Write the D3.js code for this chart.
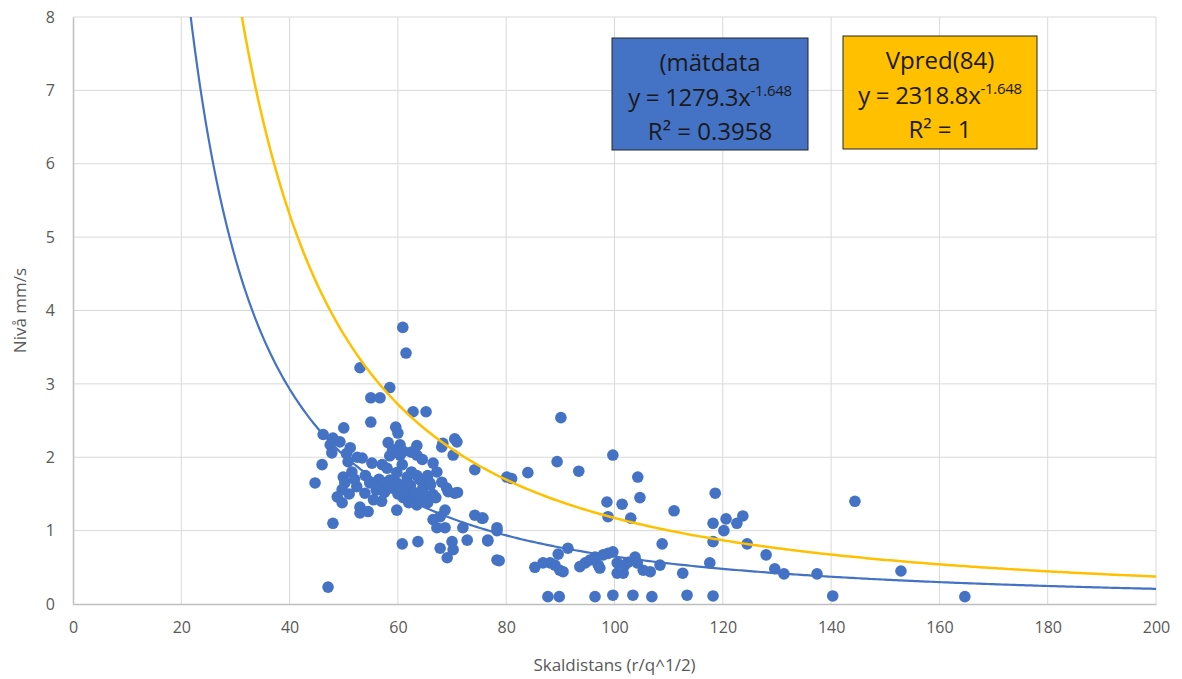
<!DOCTYPE html>
<html>
<head>
<meta charset="utf-8">
<script src="https://cdn.jsdelivr.net/npm/d3@7"></script>
<style>
  body { margin: 0; background: #fff; }
  svg text { font-family: "Liberation Sans Narrow", "Open Sans", sans-serif; }
</style>
</head>
<body>
<div id="chart"></div>
<script>
var svgWidth = 1182;
var svgHeight = 679;

var margin = { top: 17, right: 26, bottom: 75, left: 73 };
var width = svgWidth - margin.left - margin.right;
var height = svgHeight - margin.top - margin.bottom;

// measured values (skaldistans, nivå)
var measX = [60.9, 61.5, 53.0, 58.5, 55.0, 56.7, 62.8, 65.2, 55.0, 50.0, 59.6, 60.0, 70.5, 46.2, 48.0,
  58.2, 60.4, 63.5, 68.1, 51.2, 49.3, 47.5, 47.8, 46.0, 44.7, 50.8, 53.4, 55.2, 57.1, 60.4,
  63.5, 49.9, 50.2, 51.5, 49.7, 48.8, 49.7, 52.4, 53.0, 53.0, 54.5, 53.9, 54.8, 56.1, 57.2,
  58.5, 59.8, 59.8, 59.8, 60.8, 61.7, 61.7, 62.8, 63.5, 64.1, 64.6, 65.9, 66.5, 67.2, 66.5,
  68.1, 69.3, 70.5, 68.7, 67.8, 66.5, 67.2, 68.7, 72.0, 74.2, 75.5, 78.3, 72.8, 70.0, 67.8,
  70.2, 69.1, 76.6, 78.3, 60.8, 63.7, 70.9, 74.2, 68.3, 70.2, 48.0, 47.1,
  56.0, 57.5, 58.8, 60.5, 62.3, 63.0, 61.0, 62.0, 64.0, 65.0, 65.5, 66.0, 64.5, 62.5, 63.5,
  61.0, 59.0, 62.5, 65.5, 58.0, 56.5, 52.0, 51.0, 55.5, 57.0, 60.0, 52.5, 54.0, 50.5, 64.5,
  67.0, 71.0, 69.0, 58.5,
  90.1, 99.7, 89.4, 84.0, 93.4, 80.1, 81.0, 104.3, 104.7, 98.6, 101.4, 111.0, 98.8, 103.0, 75.7,
  78.3, 76.6, 108.8, 78.7, 91.4, 89.6, 87.7, 89.8, 96.4, 99.7, 103.4, 106.9, 113.4, 85.3, 86.8,
  88.1, 89.0, 89.9, 90.5, 93.6, 94.6, 95.5, 96.4, 97.0, 97.9, 98.8, 99.7, 97.3, 100.5, 100.5,
  101.6, 101.9, 102.5, 103.8, 104.2, 105.3, 106.6, 108.4, 112.6, 118.6, 144.4, 118.2, 120.6, 122.6, 123.7,
  120.2, 118.2, 124.5, 128.0, 117.6, 129.6, 131.3, 137.4, 152.9, 118.2, 140.3, 164.7];
var measY = [3.77, 3.42, 3.22, 2.95, 2.81, 2.81, 2.62, 2.62, 2.48, 2.40, 2.41, 2.33, 2.25, 2.31, 2.26,
  2.20, 2.17, 2.16, 2.14, 2.13, 2.21, 2.17, 2.06, 1.90, 1.65, 1.94, 1.99, 1.92, 1.90, 2.03,
  2.03, 1.73, 1.65, 1.80, 1.56, 1.46, 1.38, 1.60, 1.32, 1.24, 1.26, 1.51, 1.65, 1.60, 1.66,
  1.69, 1.79, 1.65, 1.28, 1.90, 1.73, 1.56, 1.46, 1.35, 1.69, 1.58, 1.65, 1.92, 1.80, 1.49,
  1.66, 1.53, 1.51, 1.28, 1.19, 1.15, 1.04, 1.04, 1.04, 1.21, 1.17, 1.04, 0.87, 0.85, 0.76,
  0.74, 0.63, 0.87, 0.60, 0.82, 0.85, 2.21, 1.83, 2.19, 2.03, 1.10, 0.23,
  1.55, 1.52, 1.58, 1.62, 1.62, 1.52, 1.45, 1.38, 1.42, 1.48, 1.38, 1.62, 1.52, 1.80, 1.75,
  2.08, 2.10, 2.07, 1.75, 1.85, 1.70, 1.70, 1.50, 1.42, 1.40, 1.50, 2.00, 1.75, 2.05, 1.97,
  1.45, 1.52, 1.58, 2.02,
  2.54, 2.03, 1.94, 1.79, 1.81, 1.73, 1.71, 1.73, 1.45, 1.39, 1.36, 1.27, 1.19, 1.17, 1.17,
  1.00, 0.86, 0.82, 0.59, 0.76, 0.68, 0.10, 0.10, 0.10, 0.12, 0.12, 0.10, 0.12, 0.50, 0.56,
  0.56, 0.53, 0.46, 0.44, 0.51, 0.56, 0.60, 0.64, 0.53, 0.67, 0.69, 0.71, 0.49, 0.56, 0.42,
  0.42, 0.53, 0.57, 0.64, 0.56, 0.46, 0.44, 0.53, 0.42, 1.51, 1.40, 1.10, 1.16, 1.10, 1.20,
  1.00, 0.85, 0.82, 0.67, 0.56, 0.48, 0.41, 0.41, 0.45, 0.11, 0.11, 0.10];

// power trendlines y = a * x^b
var fitMeas = { a: 1279.3, b: -1.648 };
var fitPred = { a: 2318.8, b: -1.648 };

var xTicks = [0, 20, 40, 60, 80, 100, 120, 140, 160, 180, 200];
var yTicks = [0, 1, 2, 3, 4, 5, 6, 7, 8];

var points = measX.map((x, i) => ({ x: x, y: measY[i] }));

var svg = d3.select("#chart")
  .append("svg")
  .attr("width", svgWidth)
  .attr("height", svgHeight);

var chartGroup = svg.append("g")
  .attr("transform", `translate(${margin.left}, ${margin.top})`);

var xScale = d3.scaleLinear().domain([0, 200]).range([0, width]);
var yScale = d3.scaleLinear().domain([0, 8]).range([height, 0]);

// gridlines
chartGroup.append("g")
  .selectAll("line")
  .data(xTicks.slice(1))
  .enter()
  .append("line")
  .attr("x1", d => xScale(d)).attr("x2", d => xScale(d))
  .attr("y1", 0).attr("y2", height)
  .attr("stroke", "#d9d9d9").attr("stroke-width", 1);

chartGroup.append("g")
  .selectAll("line")
  .data(yTicks.slice(1))
  .enter()
  .append("line")
  .attr("x1", 0).attr("x2", width)
  .attr("y1", d => yScale(d)).attr("y2", d => yScale(d))
  .attr("stroke", "#d9d9d9").attr("stroke-width", 1);

// axes
var bottomAxis = d3.axisBottom(xScale).tickValues(xTicks).tickSize(0).tickPadding(18);
var leftAxis = d3.axisLeft(yScale).tickValues(yTicks).tickSize(0).tickPadding(18);

var xAxis = chartGroup.append("g")
  .attr("transform", `translate(0, ${height})`)
  .call(bottomAxis);
var yAxis = chartGroup.append("g").call(leftAxis);

[xAxis, yAxis].forEach(function(ax) {
  ax.select(".domain").attr("stroke", "#bfbfbf").attr("stroke-width", 1.5);
  ax.selectAll("text").attr("fill", "#595959").attr("font-size", "16px");
});

// clip for trendlines
svg.append("clipPath").attr("id", "plotClip")
  .append("rect").attr("x", 0).attr("y", 0).attr("width", width).attr("height", height);

var trendX = d3.range(15, 200.5, 0.5);
var line = d3.line().x(d => xScale(d[0])).y(d => yScale(d[1]));

function trend(fit) {
  return trendX.map(x => [x, fit.a * Math.pow(x, fit.b)]);
}

// scatter
chartGroup.append("g")
  .selectAll("circle")
  .data(points)
  .enter()
  .append("circle")
  .attr("cx", d => xScale(d.x))
  .attr("cy", d => yScale(d.y))
  .attr("r", 5.8)
  .attr("fill", "#4472c4");

var trendGroup = chartGroup.append("g").attr("clip-path", "url(#plotClip)");

trendGroup.append("path")
  .datum(trend(fitMeas))
  .attr("d", line)
  .attr("fill", "none")
  .attr("stroke", "#4472c4")
  .attr("stroke-width", 2.2);

trendGroup.append("path")
  .datum(trend(fitPred))
  .attr("d", line)
  .attr("fill", "none")
  .attr("stroke", "#ffc000")
  .attr("stroke-width", 2.5);

// axis titles
svg.append("text")
  .attr("x", margin.left + width / 2)
  .attr("y", 671)
  .attr("text-anchor", "middle")
  .attr("fill", "#595959")
  .attr("font-size", "17px")
  .text("Skaldistans (r/q^1/2)");

svg.append("text")
  .attr("transform", "rotate(-90)")
  .attr("x", -(margin.top + height / 2))
  .attr("y", 26)
  .attr("text-anchor", "middle")
  .attr("fill", "#595959")
  .attr("font-size", "17px")
  .text("Nivå mm/s");

// trendline labels
var labels = [
  { x: 612, y: 38, w: 196, h: 112, fill: "#4472c4", title: "(mätdata", coef: "1279.3", r2: "0.3958" },
  { x: 843, y: 36, w: 194, h: 113, fill: "#ffc000", title: "Vpred(84)", coef: "2318.8", r2: "1" }
];

labels.forEach(function(l) {
  var g = svg.append("g").attr("transform", `translate(${l.x}, ${l.y})`);
  g.append("rect")
    .attr("width", l.w).attr("height", l.h)
    .attr("fill", l.fill)
    .attr("stroke", "#262626").attr("stroke-width", 1);
  var cx = l.w / 2;
  g.append("text").attr("x", cx).attr("y", 33)
    .attr("text-anchor", "middle").attr("font-size", "24px").attr("fill", "#1a1a1a")
    .style("font-family", "'Open Sans', sans-serif")
    .text(l.title);
  var eq = g.append("text").attr("x", cx).attr("y", 68)
    .attr("text-anchor", "middle").attr("font-size", "24px").attr("fill", "#1a1a1a")
    .style("font-family", "'Open Sans', sans-serif")
    .attr("letter-spacing", "-0.3px");
  eq.append("tspan").text(`y = ${l.coef}x`);
  eq.append("tspan").attr("dy", -10).attr("font-size", "15px").text("-1.648");
  g.append("text").attr("x", cx).attr("y", 102)
    .attr("text-anchor", "middle").attr("font-size", "24px").attr("fill", "#1a1a1a")
    .style("font-family", "'Open Sans', sans-serif")
    .text(`R² = ${l.r2}`);
});
</script>
</body>
</html>
